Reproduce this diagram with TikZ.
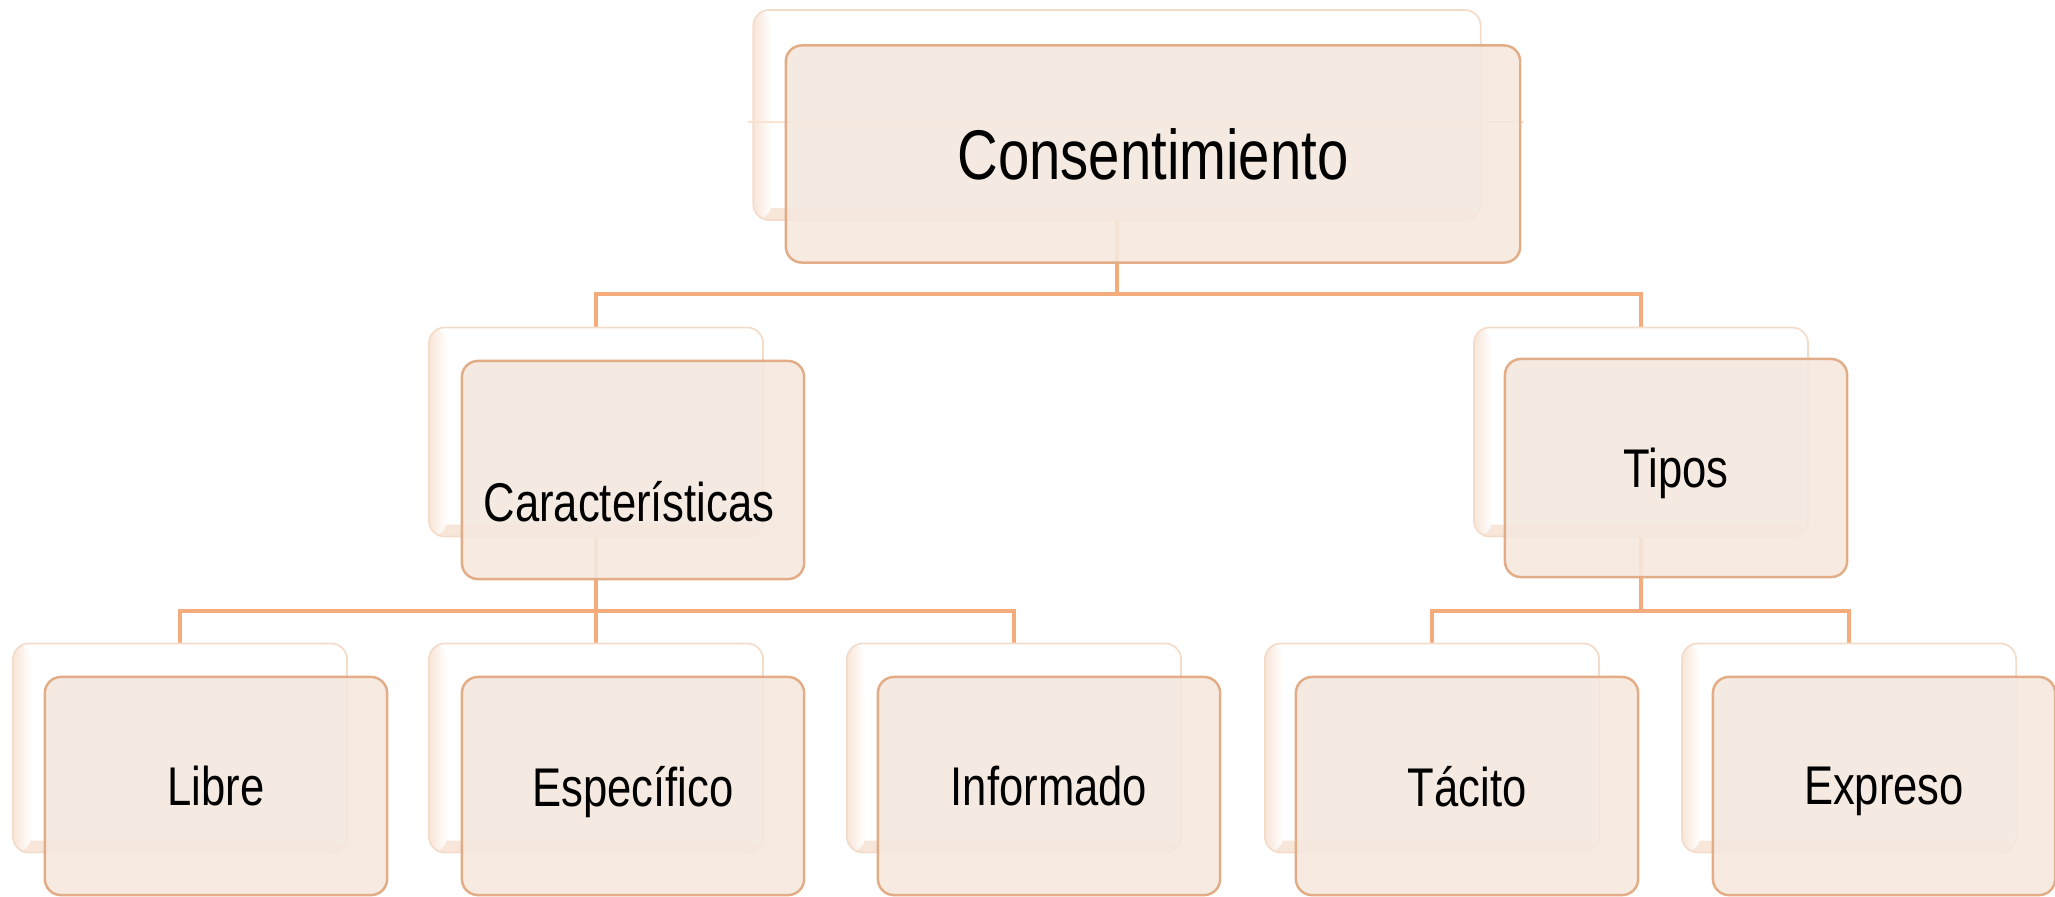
\documentclass[tikz,border=0pt]{standalone}
\usepackage{fontspec}
\setmainfont{Liberation Sans}
\newfontfamily\narrowsans[FakeStretch=0.8]{Liberation Sans}
\usetikzlibrary{backgrounds}
\definecolor{linkorange}{HTML}{F4AC7C}
\definecolor{frontfill}{HTML}{F5E8DE}
\definecolor{frontline}{HTML}{E2AC86}
\definecolor{backline}{HTML}{F4DCCB}
\definecolor{backglow}{HTML}{F8E5D8}
\begin{document}
\begin{tikzpicture}
        [x=0.01cm, y=-0.01cm,
        front/.style={rectangle,rounded corners=0.16cm,draw=frontline,line width=0.7pt,
          fill=frontfill,fill opacity=.9,text opacity=1,inner sep=0pt,
          minimum width=3.42cm,minimum height=2.18cm,text depth=0pt,
          font=\narrowsans\fontsize{15.5}{18}\selectfont},
        back/.style={rectangle,rounded corners=0.16cm,draw=backline,line width=0.5pt,fill=white,
          minimum width=3.34cm,minimum height=2.09cm,
          path picture={
            \shade[bottom color=backglow,top color=white] (path picture bounding box.south west)
              rectangle ([yshift=0.12cm]path picture bounding box.south east);
            \shade[left color=backglow,right color=white] (path picture bounding box.south west)
              rectangle ([xshift=0.18cm]path picture bounding box.north west);}},
        link/.style={draw=linkorange,line width=0.9pt},
        faintline/.style={draw=linkorange!35,line width=0.4pt}]
        \useasboundingbox (0,0) rectangle (2055,896);
        % back boxes
        \node (topb) at (1117,115) [back, minimum width=7.27cm, minimum height=2.10cm] {};
        \node (carb) at (596,432) [back] {};
        \node (tipb) at (1641,432) [back] {};
        \node (libb) at (180,748) [back] {};
        \node (espb) at (596,748) [back] {};
        \node (infb) at (1014,748) [back] {};
        \node (tacb) at (1432,748) [back] {};
        \node (expb) at (1849,748) [back] {};
        \draw[faintline] ([yshift=-0.07cm,xshift=-0.04cm]topb.west) -- ([yshift=-0.07cm,xshift=0.42cm]topb.east);
        % front boxes
        \node (topf) at (1153,154) [front, minimum width=7.34cm, minimum height=2.17cm,
          font=\narrowsans\fontsize{20}{24}\selectfont] {Consentimiento};
        \node (carf) at (633,470) [front] {};
        \node (cartext) at (629,502) [font=\narrowsans\fontsize{15.5}{18}\selectfont] {Características};
        \node (tipf) at (1676,468) [front] {Tipos};
        \node (libf) at (216,786) [front] {Libre};
        \node (espf) at (633,786) [front] {Específico};
        \node (inff) at (1049,786) [front] {Informado};
        \node (tacf) at (1467,786) [front] {Tácito};
        \node (expf) at (1884,786) [front] {Expreso};
        % connectors
        \begin{scope}[on background layer]
        \coordinate (topj) at (1117,294);
        \coordinate (carj) at (596,611);
        \coordinate (tipj) at (1641,611);
        \draw[link] (topb.south) -- (topj);
        \draw[link] (topj) -| (carb.north);
        \draw[link] (topj) -| (tipb.north);
        \draw[link] (carb.south) -- (carj);
        \draw[link] (carj) -| (libb.north);
        \draw[link] (carj) -| (espb.north);
        \draw[link] (carj) -| (infb.north);
        \draw[link] (tipb.south) -- (tipj);
        \draw[link] (tipj) -| (tacb.north);
        \draw[link] (tipj) -| (expb.north);
        \end{scope}
      \end{tikzpicture}
\end{document}
